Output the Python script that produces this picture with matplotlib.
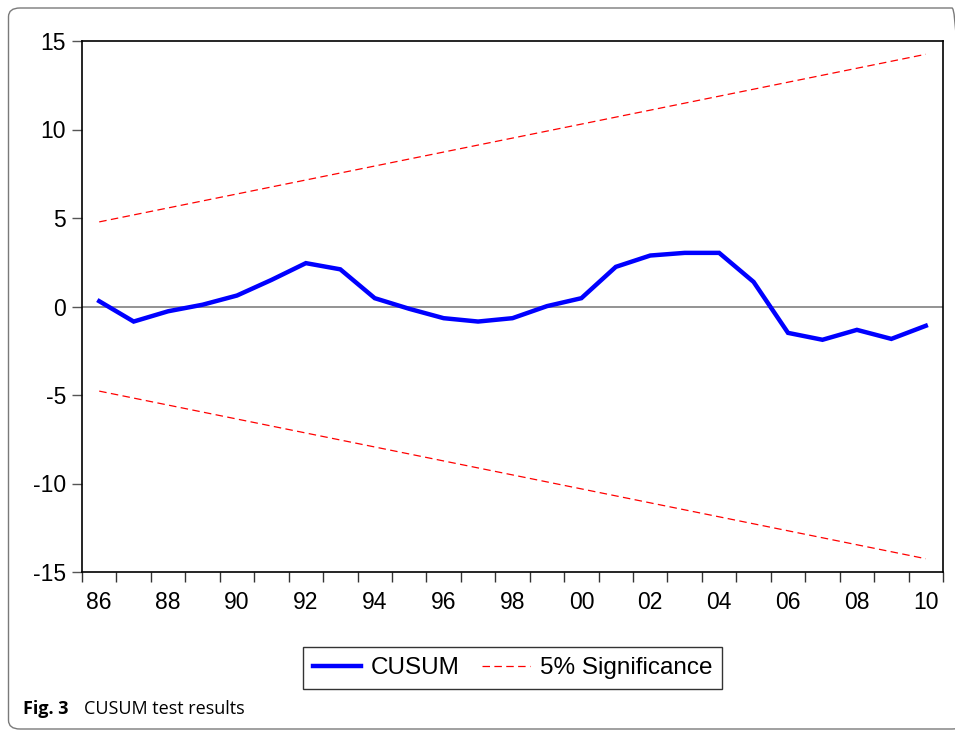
import matplotlib
matplotlib.use("Agg")
import matplotlib.pyplot as plt
from matplotlib.patches import FancyBboxPatch
import numpy as np

plt.rcParams['font.family'] = ['Liberation Sans', 'DejaVu Sans']
plt.rcParams['axes.unicode_minus'] = False

years = np.arange(1986, 2011)
cusum = [0.30, -0.85, -0.27, 0.10, 0.62, 1.50, 2.45, 2.10, 0.47, -0.13,
         -0.66, -0.85, -0.66, 0.02, 0.47, 2.24, 2.88, 3.03, 3.03, 1.39,
         -1.49, -1.88, -1.32, -1.83, -1.09]
bound_years = [1986, 2010]
upper = [4.78, 14.25]
lower = [-4.78, -14.25]
label_years = np.arange(1986, 2011, 2)
y_ticks = [15, 10, 5, 0, -5, -10, -15]

fig = plt.figure(figsize=(9.55, 7.3), dpi=100)
ax = fig.add_axes([82/955, 1 - 572/730, (943-82)/955, (572-41)/730])

ax.axhline(0, color='#808080', lw=1.2, zorder=1)
ax.plot(years, cusum, color='#0000ff', lw=3.2, solid_joinstyle='miter', label='CUSUM', zorder=3)
ax.plot(bound_years, upper, color='#ff0000', lw=0.9, dashes=(6, 3.5), label='5% Significance', zorder=2)
ax.plot(bound_years, lower, color='#ff0000', lw=0.9, dashes=(6, 3.5), zorder=2)

ax.set_xlim(1985.5, 2010.5)
ax.set_ylim(-15, 15)

# tick marks at year boundaries, labels at even years
ax.set_xticks(np.arange(1985.5, 2011, 1.0))
ax.set_xticklabels([])
ax.set_xticks(label_years, minor=True)
ax.set_xticklabels(['%02d' % (y % 100) for y in label_years], minor=True)
ax.tick_params(axis='x', which='major', direction='out', length=7.5, width=1, color='#333333')
ax.tick_params(axis='x', which='minor', length=0, pad=14, labelsize=16.5)

ax.set_yticks(y_ticks)
ax.set_yticklabels([str(v) for v in y_ticks])
ax.tick_params(axis='y', direction='out', length=7.5, width=1, color='#555555', pad=4, labelsize=16.5)

for s in ax.spines.values():
    s.set_linewidth(1.2)
    s.set_color('black')

leg = fig.legend(loc='center', bbox_to_anchor=(512.5/955, 62/730), ncol=2, fontsize=17.5,
                 frameon=True, fancybox=False, edgecolor='black', handlelength=2.0,
                 columnspacing=0.9, handletextpad=0.4, borderpad=0.4, borderaxespad=0)
leg.get_frame().set_linewidth(1.0)

# journal frame and caption
frame = FancyBboxPatch((8.5/955, 1/730), 1.0, (722 - 1)/730,
                       boxstyle='round,pad=0,rounding_size=0.012',
                       transform=fig.transFigure, fill=False, edgecolor='#7a7a7a', lw=1.0)
fig.patches.append(frame)
fig.text(23/955, 1 - 709/730, 'Fig. 3', fontsize=13, fontweight='bold', family='Open Sans',
         va='center', ha='left')
fig.text(84/955, 1 - 709/730, 'CUSUM test results', fontsize=13, family='Open Sans',
         va='center', ha='left')

fig.savefig('out.png', dpi=100)
